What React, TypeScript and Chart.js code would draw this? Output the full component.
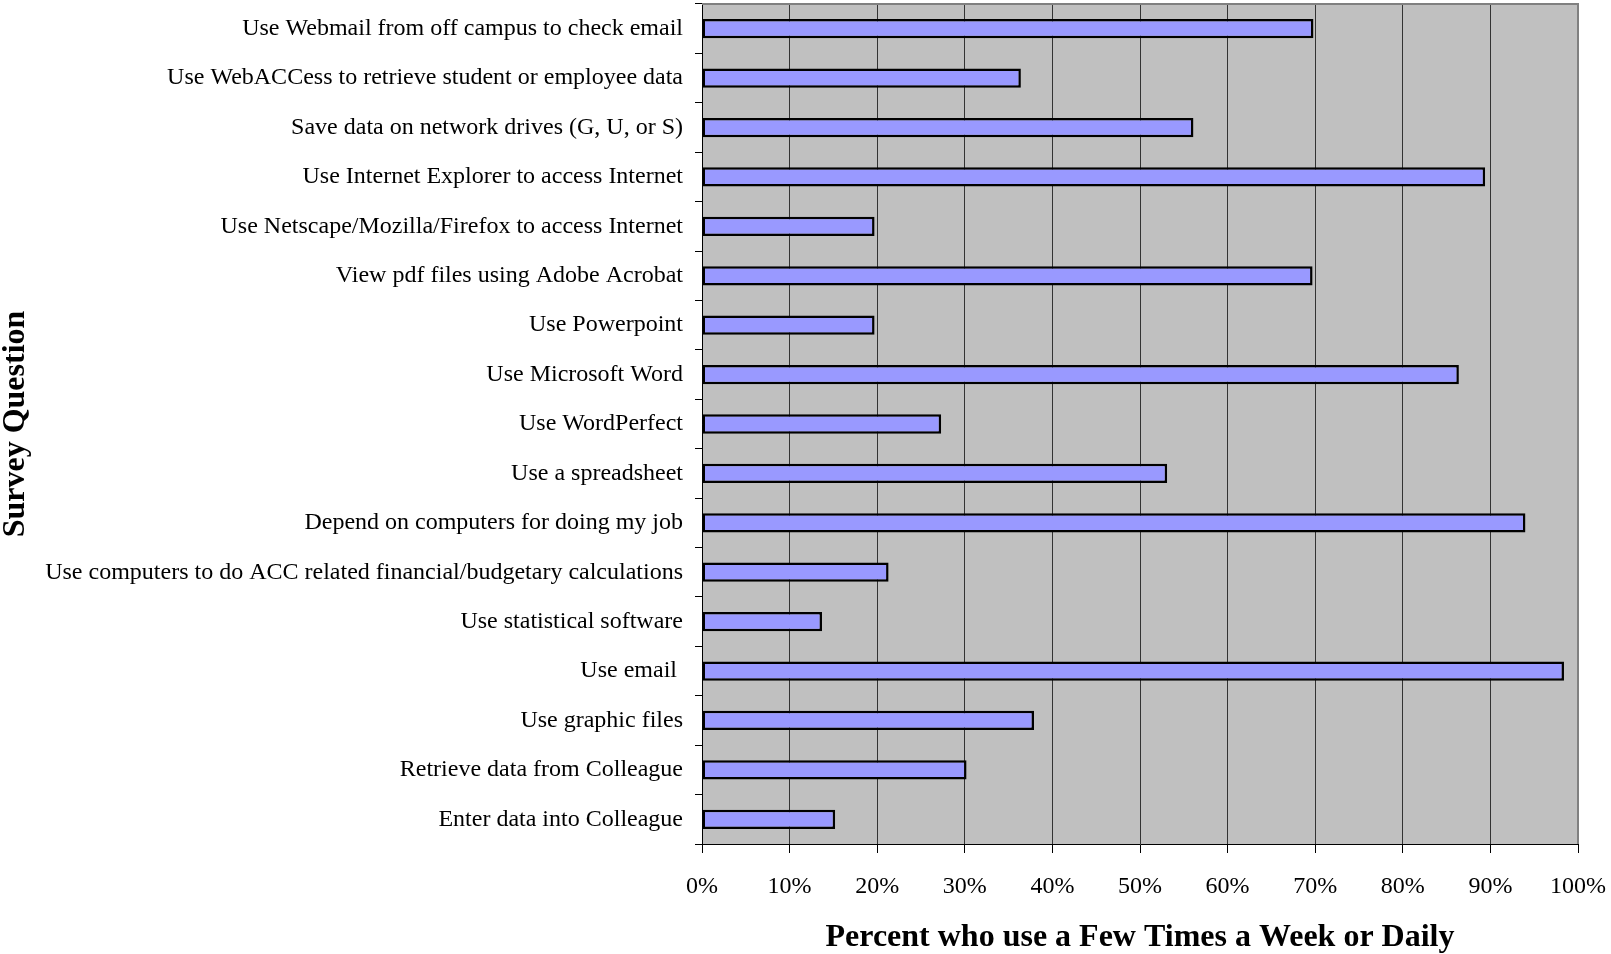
import React, { useEffect, useRef } from 'react';
import { Chart, registerables } from 'chart.js';

Chart.register(...registerables);

const categories: string[] = [
  'Use Webmail from off campus to check email',
  'Use WebACCess to retrieve student or employee data',
  'Save data on network drives (G, U, or S)',
  'Use Internet Explorer to access Internet',
  'Use Netscape/Mozilla/Firefox to access Internet',
  'View pdf files using Adobe Acrobat',
  'Use Powerpoint',
  'Use Microsoft Word',
  'Use WordPerfect',
  'Use a spreadsheet',
  'Depend on computers for doing my job',
  'Use computers to do ACC related financial/budgetary calculations',
  'Use statistical software',
  'Use email ',
  'Use graphic files',
  'Retrieve data from Colleague',
  'Enter data into Colleague',
];

const percentUsing: number[] = [
  69.8, 36.4, 56.1, 89.4, 19.7, 69.7, 19.7, 86.4, 27.3, 53.1, 94.0, 21.3, 13.7, 98.4, 37.9, 30.2, 15.2,
];

const xTickLabels: string[] = ['0%', '10%', '20%', '30%', '40%', '50%', '60%', '70%', '80%', '90%', '100%'];

const xTitle = 'Percent who use a Few Times a Week or Daily';
const yTitle = 'Survey Question';

const SERIF = "'Liberation Serif', 'Times New Roman', serif";

const plotFrame = {
  id: 'plotFrame',
  beforeDraw(chart: any) {
    const { ctx, chartArea } = chart;
    ctx.save();
    ctx.fillStyle = '#C0C0C0';
    ctx.fillRect(chartArea.left, chartArea.top, chartArea.right - chartArea.left, chartArea.bottom - chartArea.top);
    ctx.restore();
  },
  afterDraw(chart: any) {
    const { ctx, chartArea } = chart;
    ctx.save();
    ctx.strokeStyle = '#808080';
    ctx.lineWidth = 2;
    ctx.beginPath();
    ctx.moveTo(chartArea.left, chartArea.top);
    ctx.lineTo(chartArea.right, chartArea.top);
    ctx.lineTo(chartArea.right, chartArea.bottom);
    ctx.stroke();
    ctx.restore();
  },
};

function zeroPad(scale: any) {
  scale.paddingTop = 0;
  scale.paddingBottom = 0;
  scale.paddingLeft = 0;
  scale.paddingRight = 0;
}

export default function App() {
  const canvasRef = useRef<HTMLCanvasElement | null>(null);

  useEffect(() => {
    if (!canvasRef.current) return;
    Chart.defaults.color = '#000';
    const chart = new Chart(canvasRef.current, {
      type: 'bar',
      data: {
        labels: categories,
        datasets: [
          {
            data: percentUsing,
            backgroundColor: '#9999FF',
            borderColor: '#000000',
            borderWidth: 2.5,
            borderSkipped: false,
            barPercentage: 0.39,
            categoryPercentage: 1,
          },
        ],
      },
      options: {
        indexAxis: 'y',
        animation: false,
        responsive: false,
        layout: { padding: { top: 4, right: 33, left: 0, bottom: 0 } },
        plugins: {
          legend: { display: false },
          tooltip: { enabled: false },
        },
        scales: {
          x: {
            min: 0,
            max: 100,
            afterFit(scale: any) {
              scale.height = 110;
              zeroPad(scale);
            },
            ticks: {
              stepSize: 10,
              padding: 19,
              color: '#000',
              font: { family: SERIF, size: 24 },
              callback: (_v: any, i: number) => xTickLabels[i],
            },
            grid: {
              color: '#333333',
              lineWidth: 1,
              drawTicks: true,
              tickLength: 9,
              tickColor: '#000',
            },
            border: { display: true, color: '#000', width: 1 },
            title: {
              display: true,
              text: xTitle,
              color: '#000',
              font: { family: SERIF, size: 32, weight: 'bold', lineHeight: 1 },
              padding: 0,
            },
          },
          y: {
            afterFit(scale: any) {
              scale.width = 702;
              zeroPad(scale);
            },
            ticks: {
              padding: 12,
              color: '#000',
              font: { family: SERIF, size: 24 },
              autoSkip: false,
            },
            grid: {
              offset: true,
              drawOnChartArea: false,
              drawTicks: true,
              tickLength: 7,
              color: '#000',
            },
            border: { display: true, color: '#000', width: 1 },
            title: {
              display: true,
              text: yTitle,
              color: '#000',
              font: { family: SERIF, size: 32, weight: 'bold', lineHeight: 1 },
              padding: 0,
            },
          },
        },
      },
      plugins: [plotFrame],
    } as any);
    return () => chart.destroy();
  }, []);

  return (
    <div style={{ position: 'absolute', left: 0, top: 0, width: 1611, height: 954, background: '#fff' }}>
      <canvas ref={canvasRef} width={1611} height={954} style={{ display: 'block' }} />
    </div>
  );
}
